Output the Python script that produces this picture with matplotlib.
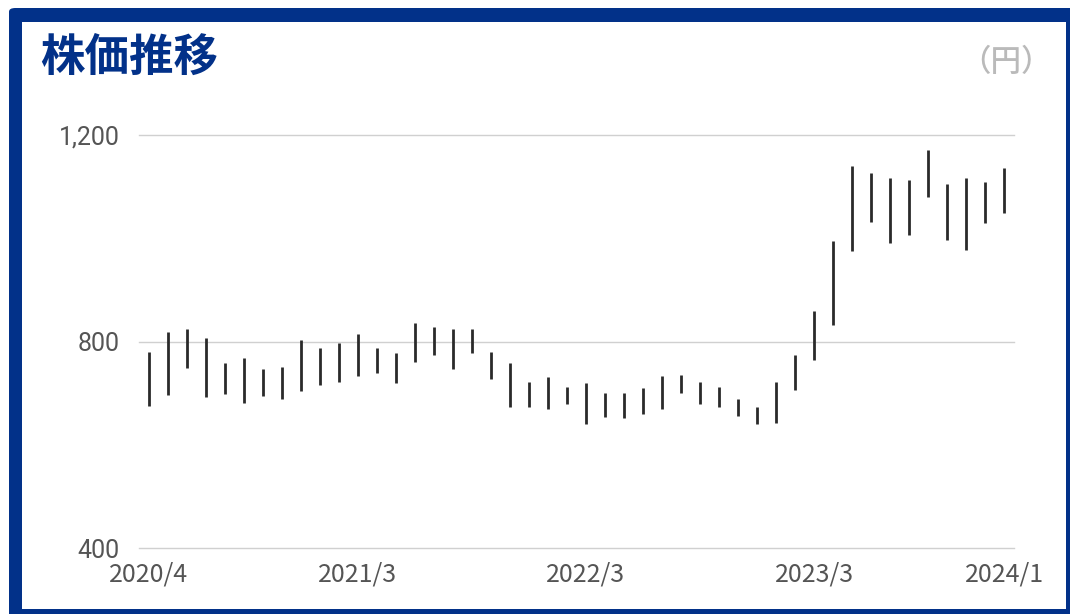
import matplotlib
matplotlib.use("Agg")
import matplotlib.pyplot as plt
from matplotlib.patches import FancyBboxPatch, Rectangle
import pandas as pd

# ---- data ----
months = [f"{d.year}/{d.month}" for d in pd.date_range("2020-04-01", "2024-01-01", freq="MS")]
highs = [780, 818, 825, 807, 758, 768, 746, 751, 803, 788,
         798, 815, 788, 778, 835, 828, 825, 825, 780, 758,
         721, 731, 711, 719, 701, 701, 709, 733, 736, 721,
         711, 689, 674, 722, 773, 859, 995, 1140, 1126, 1117,
         1113, 1170, 1105, 1117, 1108, 1137]
lows = [675, 696, 749, 692, 698, 681, 694, 689, 704, 716,
        722, 734, 739, 719, 761, 774, 746, 778, 727, 674,
        674, 669, 679, 640, 654, 651, 659, 669, 701, 679,
        674, 656, 640, 643, 707, 764, 831, 975, 1031, 991,
        1006, 1080, 997, 977, 1029, 1048]
x_tick_labels = ["2020/4", "2021/3", "2022/3", "2023/3", "2024/1"]
y_ticks = [400, 800, 1200]
title = "株価推移"
unit = "（円）"

W, H = 1070, 614
BLUE = "#023189"

fig = plt.figure(figsize=(W / 100, H / 100), dpi=100)
fig.patch.set_facecolor("white")

def fx(px):
    return px / W

def fy(py):
    return 1 - py / H

# frame
frame = FancyBboxPatch((fx(9), fy(640)), fx(1100) - fx(9), fy(8) - fy(640),
                       boxstyle="round,pad=0,rounding_size=0.006",
                       transform=fig.transFigure, facecolor=BLUE, edgecolor="none",
                       zorder=0)
fig.patches.append(frame)
inner = Rectangle((fx(22), fy(609)), fx(1066) - fx(22), fy(22) - fy(609),
                  transform=fig.transFigure, facecolor="white", edgecolor="none", zorder=1)
fig.patches.append(inner)

# title and unit
fig.text(fx(40), fy(58), title, fontsize=32, fontweight="bold", color=BLUE,
         family=["Noto Sans CJK JP", "DejaVu Sans"], ha="left", va="center", zorder=5)
fig.text(fx(1052), fy(62), unit, fontsize=22, color="#bababa", fontweight="medium",
         family=["Noto Sans CJK JP", "DejaVu Sans"], ha="right", va="center", zorder=5)

# axes
ax = fig.add_axes([fx(139), fy(548), fx(1014) - fx(139), fy(135) - fy(548)])
ax.set_zorder(3)
ax.set_facecolor("none")
xs = list(range(len(months)))
ax.vlines(xs, lows, highs, colors="#2a2a2a", linewidth=2.0, capstyle="butt", zorder=3)

ax.set_xlim(-0.5, len(months) - 0.5)
ax.set_ylim(400, 1200)
for s in ax.spines.values():
    s.set_visible(False)

for v in y_ticks:
    ax.axhline(v, color="#d0d0d0", linewidth=1.0, zorder=1, clip_on=False)

ax.set_yticks(y_ticks)
ax.set_yticklabels([f"{v:,}" for v in y_ticks], fontsize=18, color="#555555",
                   family=["Roboto", "DejaVu Sans"])
tick_pos = [months.index(l) for l in x_tick_labels]
ax.set_xticks(tick_pos)
ax.set_xticklabels(x_tick_labels, fontsize=18, color="#555555",
                   family=["Noto Sans CJK JP", "DejaVu Sans"])
ax.tick_params(axis="both", length=0)
ax.tick_params(axis="y", pad=14)
ax.tick_params(axis="x", pad=10)

fig.savefig("out.png", dpi=100, facecolor="white")
